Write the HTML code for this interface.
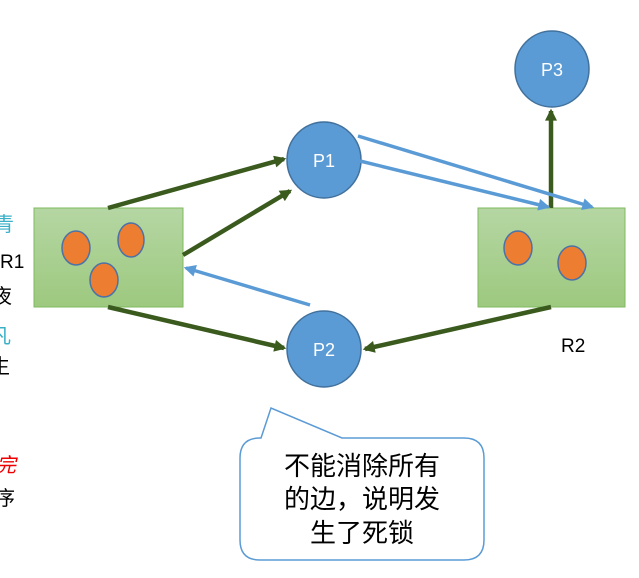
<!DOCTYPE html>
<html><head><meta charset="utf-8"><style>
body{margin:0;background:#fff;width:639px;height:578px;overflow:hidden}
svg{display:block}
text{font-family:"Liberation Sans","Noto Sans CJK SC",sans-serif}
</style></head><body>
<svg width="639" height="578" viewBox="0 0 639 578">
<defs>
<linearGradient id="g" x1="0" y1="0" x2="0" y2="1"><stop offset="0" stop-color="#b5d6a3"/><stop offset="1" stop-color="#9dc97f"/></linearGradient>
<marker id="ag" markerWidth="8" markerHeight="8" refX="6" refY="4" orient="auto" markerUnits="userSpaceOnUse"><path d="M0,0 L14,4 L0,8z" fill="#3a5a1e" transform="scale(0.6,1)"/></marker>
<marker id="agr" viewBox="0 0 10 10" markerWidth="14" markerHeight="12" refX="8" refY="5" orient="auto" markerUnits="userSpaceOnUse"><path d="M0,0 L10,5 L0,10z" fill="#3a5a1e"/></marker>
<marker id="ab" viewBox="0 0 10 10" markerWidth="14" markerHeight="12" refX="8" refY="5" orient="auto" markerUnits="userSpaceOnUse"><path d="M0,0 L10,5 L0,10z" fill="#5b9bd5"/></marker>
</defs>
<!-- left clipped text fragments -->
<text x="-6" y="231" font-size="20" fill="#3ab0c8">青</text>
<text x="0" y="268" font-size="19" fill="#000">R1</text>
<text x="-8" y="303" font-size="20" fill="#000">夜</text>
<text x="-9" y="343" font-size="20" fill="#3ab0c8">凡</text>
<text x="-10" y="373" font-size="20" fill="#000">生</text>
<text x="-4" y="472" font-size="20" fill="#e00" font-style="italic">完</text>
<text x="-5" y="505" font-size="20" fill="#000">序</text>
<!-- resources -->
<rect x="34" y="208" width="149" height="99" fill="url(#g)" stroke="#7fba5e" stroke-width="1"/>
<rect x="478" y="208" width="147" height="99" fill="url(#g)" stroke="#7fba5e" stroke-width="1"/>
<g fill="#ed7d31" stroke="#4a72a8" stroke-width="1.5">
<ellipse cx="76" cy="248" rx="14" ry="17"/>
<ellipse cx="131" cy="240" rx="13" ry="17"/>
<ellipse cx="104" cy="280" rx="14" ry="17"/>
<ellipse cx="518" cy="248" rx="14" ry="17"/>
<ellipse cx="572" cy="263" rx="14" ry="17"/>
</g>
<text x="561" y="352" font-size="19" fill="#000">R2</text>
<!-- processes -->
<g fill="#5b9bd5" stroke="#41719c" stroke-width="1.5">
<ellipse cx="324" cy="160" rx="37" ry="38"/>
<ellipse cx="324" cy="349" rx="37" ry="38"/>
<ellipse cx="552" cy="69" rx="37" ry="38"/>
</g>
<g font-size="18" fill="#fff" text-anchor="middle">
<text x="324" y="167">P1</text><text x="324" y="356">P2</text><text x="552" y="76">P3</text>
</g>
<!-- green arrows -->
<g stroke="#3a5a1e" stroke-width="4.5" fill="none" marker-end="url(#agr)">
<line x1="108" y1="208" x2="284" y2="159"/>
<line x1="183" y1="255" x2="290" y2="191"/>
<line x1="108" y1="307" x2="284" y2="348"/>
<line x1="551" y1="307" x2="365" y2="349"/>
<line x1="551" y1="208" x2="551" y2="111"/>
</g>
<!-- blue arrows -->
<g stroke="#5b9bd5" stroke-width="3.5" fill="none" marker-end="url(#ab)">
<line x1="310" y1="305" x2="186" y2="268"/>
<line x1="358" y1="136" x2="592" y2="207"/>
<line x1="360" y1="161" x2="548" y2="207"/>
</g>
<!-- callout -->
<path d="M261,438 L271,408 L342,438 L464,438 Q484,438 484,458 L484,540 Q484,560 464,560 L260,560 Q240,560 240,540 L240,458 Q240,438 260,438 Z" fill="#fff" stroke="#5b9bd5" stroke-width="1.5"/>
<g font-size="26" fill="#000" text-anchor="middle">
<text x="362" y="475">不能消除所有</text>
<text x="362" y="508">的边，说明发</text>
<text x="362" y="542">生了死锁</text>
</g>
</svg>
</body></html>
